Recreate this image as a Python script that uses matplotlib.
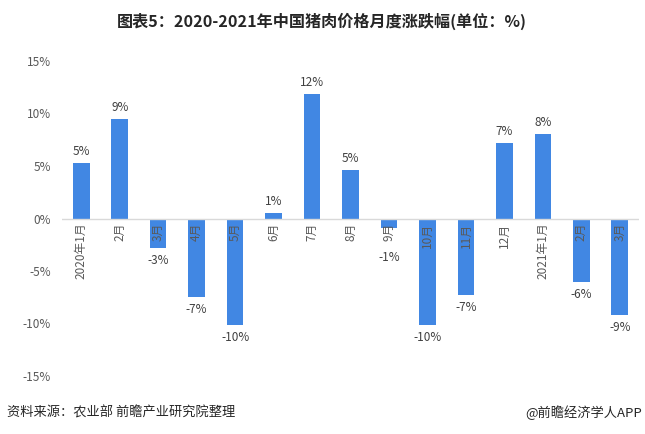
import matplotlib
matplotlib.use("Agg")
import matplotlib.pyplot as plt
from matplotlib.ticker import FuncFormatter

plt.rcParams['font.family'] = ['Noto Sans CJK SC', 'DejaVu Sans']

categories = ["2020年1月", "2月", "3月", "4月", "5月", "6月", "7月", "8月", "9月",
              "10月", "11月", "12月", "2021年1月", "2月", "3月"]
values = [5.27, 9.46, -2.83, -7.49, -10.16, 0.51, 11.84, 4.6, -0.92,
          -10.16, -7.3, 7.17, 8.03, -6.06, -9.2]
yticks = [15, 10, 5, 0, -5, -10, -15]

title = "图表5：2020-2021年中国猪肉价格月度涨跌幅(单位：%)"
source = "资料来源：农业部 前瞻产业研究院整理"
brand = "@前瞻经济学人APP"

bar_color = "#4187E3"
text_color = "#595959"

fig = plt.figure(figsize=(6.45, 4.34), dpi=100)
ax = fig.add_axes([62/645, 1-376/434, 577/645, 315/434])

x = list(range(len(categories)))
ax.bar(x, values, width=0.43, color=bar_color, zorder=2)
ax.set_xlim(-0.5, len(categories)-0.5)
ax.set_ylim(-15, 15)
ax.set_yticks(yticks)
ax.yaxis.set_major_formatter(FuncFormatter(lambda v, p: f"{v:.0f}%"))
ax.tick_params(axis='y', length=0, labelsize=8.5, labelcolor=text_color, pad=8)
ax.set_xticks([])
for s in ax.spines.values():
    s.set_visible(False)
ax.axhline(0, color="#D9D9D9", lw=1, zorder=3)

for xi, (cat, v) in enumerate(zip(categories, values)):
    ax.annotate(cat, (xi, 0), xytext=(0, -3), textcoords='offset points',
                rotation=90, ha='center', va='top', fontsize=8.5,
                color=text_color, zorder=4)
    lab = f"{round(v):.0f}%"
    if v >= 0:
        ax.annotate(lab, (xi, v), xytext=(0, 4), textcoords='offset points',
                    ha='center', va='bottom', fontsize=8.5, color="#404040")
    else:
        anchor = min(v, -2.6)
        ax.annotate(lab, (xi, anchor), xytext=(0, -4), textcoords='offset points',
                    ha='center', va='top', fontsize=8.5, color="#404040")

fig.text(322/645, 1-21/434, title, ha='center', va='center', fontsize=11.6,
         fontweight='bold', color="#262626")
fig.text(7/645, 1-413/434, source, ha='left', va='center', fontsize=9.5, color="#262626")
fig.text(642/645, 1-413/434, brand, ha='right', va='center', fontsize=9.5, color="#262626")

fig.savefig("out.png", dpi=100)
